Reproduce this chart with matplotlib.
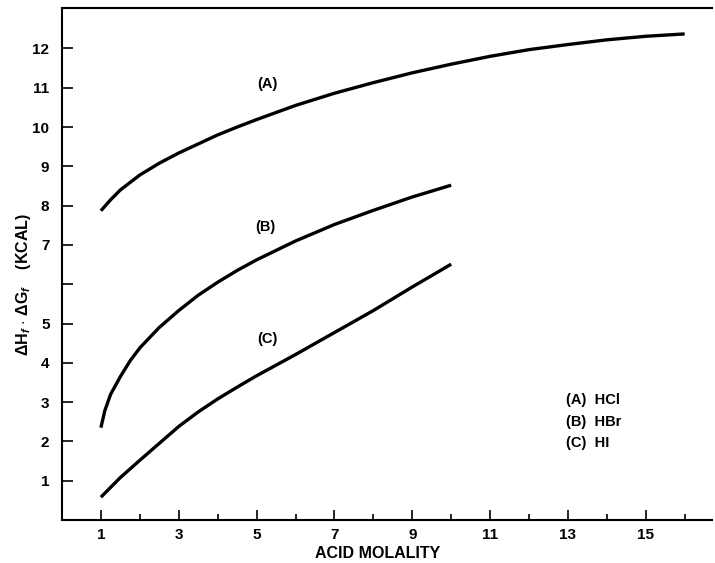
import matplotlib.pyplot as plt
from matplotlib.ticker import FixedLocator

plt.rcParams['font.family'] = 'Liberation Sans'
plt.rcParams['font.weight'] = 'bold'
plt.rcParams['axes.labelweight'] = 'bold'
plt.rcParams['mathtext.fontset'] = 'custom'
plt.rcParams['mathtext.rm'] = 'Liberation Sans:bold'
plt.rcParams['mathtext.it'] = 'Liberation Sans:italic:bold'

## curve data (molality, kcal)
hcl_x = [1, 1.25, 1.5, 2, 2.5, 3, 3.5, 4, 4.5, 5, 6, 7, 8, 9, 10, 11, 12, 13, 14, 15, 16]
hcl_y = [7.87, 8.15, 8.4, 8.78, 9.08, 9.34, 9.57, 9.8, 10.0, 10.19, 10.55, 10.86, 11.13, 11.38,
         11.6, 11.8, 11.97, 12.1, 12.22, 12.31, 12.37]

hbr_x = [1, 1.1, 1.25, 1.5, 1.75, 2, 2.5, 3, 3.5, 4, 4.5, 5, 6, 7, 8, 9, 10]
hbr_y = [2.35, 2.78, 3.2, 3.65, 4.05, 4.38, 4.9, 5.33, 5.72, 6.05, 6.35, 6.62, 7.1, 7.52, 7.88, 8.22, 8.52]

hi_x = [1, 1.5, 2, 2.5, 3, 3.5, 4, 4.5, 5, 6, 7, 8, 9, 10]
hi_y = [0.58, 1.08, 1.52, 1.95, 2.38, 2.75, 3.08, 3.38, 3.67, 4.21, 4.77, 5.33, 5.93, 6.51]

curve_labels = ['(A)', '(B)', '(C)']
label_pos = [(5.27, 11.1), (5.23, 7.46), (5.27, 4.6)]
legend_lines = ['(A)  HCl', '(B)  HBr', '(C)  HI']

yticks = list(range(1, 13))
ytick_labels = ['' if t == 6 else str(t) for t in yticks]

fig = plt.figure(figsize=(7.15, 5.63), dpi=100)
ax = fig.add_axes([0.0867, 0.0764, 0.909, 0.9094])

for xs, ys in [(hcl_x, hcl_y), (hbr_x, hbr_y), (hi_x, hi_y)]:
    ax.plot(xs, ys, color='black', lw=2.4, solid_capstyle='butt', solid_joinstyle='round')

for lab, (lx, ly) in zip(curve_labels, label_pos):
    ax.text(lx, ly, lab, ha='center', va='center', fontsize=10.5)

for i, t in enumerate(legend_lines):
    ax.text(12.95, 3.05 - i * 0.55, t, ha='left', va='center', fontsize=10.5)

ax.set_xlim(0, 16.7)
ax.set_ylim(0, 13.03)

ax.xaxis.set_major_locator(FixedLocator([1, 3, 5, 7, 9, 11, 13, 15]))
ax.xaxis.set_minor_locator(FixedLocator([2, 4, 6, 8, 10, 12, 14, 16]))
ax.set_yticks(yticks)
ax.set_yticklabels(ytick_labels)

ax.tick_params(axis='both', which='both', direction='in', width=1.2, labelsize=11)
ax.tick_params(axis='x', which='major', length=7, pad=6)
ax.tick_params(axis='x', which='minor', length=4)
ax.tick_params(axis='y', which='major', length=8, pad=9)

ax.spines['right'].set_visible(False)
for s in ['left', 'bottom', 'top']:
    ax.spines[s].set_linewidth(1.5)

ax.set_xlabel('ACID MOLALITY', fontsize=11.5, fontweight='bold')
ax.xaxis.set_label_coords(0.486, -0.05)
ax.set_ylabel(r'$\Delta$H$_{f}$ $\cdot$ $\Delta$G$_{f}$    (KCAL)', fontsize=11.5, fontweight='bold')
ax.yaxis.set_label_coords(-0.045, 0.46)

fig.savefig('out.png', dpi=100)
